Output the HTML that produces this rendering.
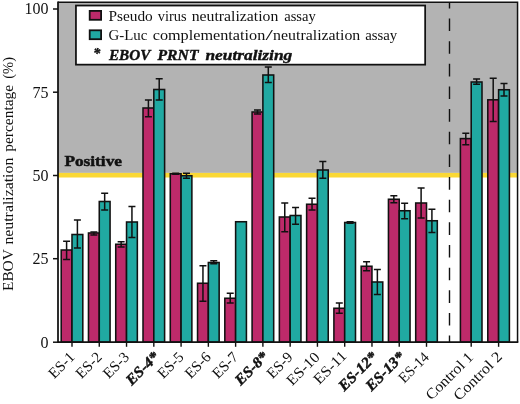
<!DOCTYPE html>
<html><head><meta charset="utf-8"><title>EBOV neutralization</title>
<style>html,body{margin:0;padding:0;background:#fff;}svg{display:block;}text{font-family:"Liberation Serif",serif;fill:#111111;}</style>
</head><body>
<svg width="520" height="404" viewBox="0 0 520 404" style="will-change:transform;opacity:0.999">
<rect x="0" y="0" width="520" height="404" fill="#ffffff"/>
<rect x="58.00" y="2.20" width="459.55" height="170.70" fill="#b3b3b3"/>
<rect x="58.00" y="172.9" width="459.55" height="4.6" fill="#fad835"/>
<path d="M449.5 2.20V8.45M449.5 18.50V31.10M449.5 41.15V53.75M449.5 63.80V76.40M449.5 86.45V99.05M449.5 109.10V121.70M449.5 131.75V144.35M449.5 154.40V167.00M449.5 177.05V189.65M449.5 199.70V212.30M449.5 222.35V234.95M449.5 245.00V257.60M449.5 267.65V280.25M449.5 290.30V302.90M449.5 312.95V325.55M449.5 335.60V342.20" stroke="#111111" stroke-width="1.4" fill="none"/>
<rect x="61.20" y="250.00" width="10.80" height="92.20" fill="#bd2a6a" stroke="#111111" stroke-width="1.55"/>
<rect x="72.00" y="234.50" width="10.80" height="107.70" fill="#20a9a2" stroke="#111111" stroke-width="1.55"/>
<path d="M66.60 241.25V259.50M63.10 241.25H70.10M63.10 259.50H70.10" stroke="#111111" stroke-width="1.5" fill="none"/>
<path d="M77.40 220.00V248.00M73.90 220.00H80.90M73.90 248.00H80.90" stroke="#111111" stroke-width="1.5" fill="none"/>
<rect x="88.47" y="233.00" width="10.80" height="109.20" fill="#bd2a6a" stroke="#111111" stroke-width="1.55"/>
<rect x="99.27" y="201.50" width="10.80" height="140.70" fill="#20a9a2" stroke="#111111" stroke-width="1.55"/>
<path d="M93.87 232.00V235.00M90.37 232.00H97.37M90.37 235.00H97.37" stroke="#111111" stroke-width="1.5" fill="none"/>
<path d="M104.67 193.25V210.00M101.17 193.25H108.17M101.17 210.00H108.17" stroke="#111111" stroke-width="1.5" fill="none"/>
<rect x="115.74" y="244.25" width="10.80" height="97.95" fill="#bd2a6a" stroke="#111111" stroke-width="1.55"/>
<rect x="126.54" y="222.00" width="10.80" height="120.20" fill="#20a9a2" stroke="#111111" stroke-width="1.55"/>
<path d="M121.14 241.75V247.00M117.64 241.75H124.64M117.64 247.00H124.64" stroke="#111111" stroke-width="1.5" fill="none"/>
<path d="M131.94 206.50V237.50M128.44 206.50H135.44M128.44 237.50H135.44" stroke="#111111" stroke-width="1.5" fill="none"/>
<rect x="143.01" y="108.00" width="10.80" height="234.20" fill="#bd2a6a" stroke="#111111" stroke-width="1.55"/>
<rect x="153.81" y="89.50" width="10.80" height="252.70" fill="#20a9a2" stroke="#111111" stroke-width="1.55"/>
<path d="M148.41 100.00V116.75M144.91 100.00H151.91M144.91 116.75H151.91" stroke="#111111" stroke-width="1.5" fill="none"/>
<path d="M159.21 78.75V100.00M155.71 78.75H162.71M155.71 100.00H162.71" stroke="#111111" stroke-width="1.5" fill="none"/>
<rect x="170.28" y="173.75" width="10.80" height="168.45" fill="#bd2a6a" stroke="#111111" stroke-width="1.55"/>
<rect x="181.08" y="175.75" width="10.80" height="166.45" fill="#20a9a2" stroke="#111111" stroke-width="1.55"/>
<path d="M175.68 173.30V174.30M172.18 173.30H179.18M172.18 174.30H179.18" stroke="#111111" stroke-width="1.5" fill="none"/>
<path d="M186.48 173.25V178.25M182.98 173.25H189.98M182.98 178.25H189.98" stroke="#111111" stroke-width="1.5" fill="none"/>
<rect x="197.55" y="283.25" width="10.80" height="58.95" fill="#bd2a6a" stroke="#111111" stroke-width="1.55"/>
<rect x="208.35" y="262.50" width="10.80" height="79.70" fill="#20a9a2" stroke="#111111" stroke-width="1.55"/>
<path d="M202.95 265.75V301.25M199.45 265.75H206.45M199.45 301.25H206.45" stroke="#111111" stroke-width="1.5" fill="none"/>
<path d="M213.75 260.75V263.75M210.25 260.75H217.25M210.25 263.75H217.25" stroke="#111111" stroke-width="1.5" fill="none"/>
<rect x="224.82" y="298.25" width="10.80" height="43.95" fill="#bd2a6a" stroke="#111111" stroke-width="1.55"/>
<rect x="235.62" y="221.75" width="10.80" height="120.45" fill="#20a9a2" stroke="#111111" stroke-width="1.55"/>
<path d="M230.22 293.25V303.00M226.72 293.25H233.72M226.72 303.00H233.72" stroke="#111111" stroke-width="1.5" fill="none"/>
<rect x="252.09" y="112.00" width="10.80" height="230.20" fill="#bd2a6a" stroke="#111111" stroke-width="1.55"/>
<rect x="262.89" y="75.00" width="10.80" height="267.20" fill="#20a9a2" stroke="#111111" stroke-width="1.55"/>
<path d="M257.49 110.00V114.00M253.99 110.00H260.99M253.99 114.00H260.99" stroke="#111111" stroke-width="1.5" fill="none"/>
<path d="M268.29 67.00V82.50M264.79 67.00H271.79M264.79 82.50H271.79" stroke="#111111" stroke-width="1.5" fill="none"/>
<rect x="279.36" y="217.00" width="10.80" height="125.20" fill="#bd2a6a" stroke="#111111" stroke-width="1.55"/>
<rect x="290.16" y="215.50" width="10.80" height="126.70" fill="#20a9a2" stroke="#111111" stroke-width="1.55"/>
<path d="M284.76 203.00V231.75M281.26 203.00H288.26M281.26 231.75H288.26" stroke="#111111" stroke-width="1.5" fill="none"/>
<path d="M295.56 207.50V224.25M292.06 207.50H299.06M292.06 224.25H299.06" stroke="#111111" stroke-width="1.5" fill="none"/>
<rect x="306.63" y="204.25" width="10.80" height="137.95" fill="#bd2a6a" stroke="#111111" stroke-width="1.55"/>
<rect x="317.43" y="170.00" width="10.80" height="172.20" fill="#20a9a2" stroke="#111111" stroke-width="1.55"/>
<path d="M312.03 198.25V210.00M308.53 198.25H315.53M308.53 210.00H315.53" stroke="#111111" stroke-width="1.5" fill="none"/>
<path d="M322.83 161.50V178.25M319.33 161.50H326.33M319.33 178.25H326.33" stroke="#111111" stroke-width="1.5" fill="none"/>
<rect x="333.90" y="308.25" width="10.80" height="33.95" fill="#bd2a6a" stroke="#111111" stroke-width="1.55"/>
<rect x="344.70" y="222.50" width="10.80" height="119.70" fill="#20a9a2" stroke="#111111" stroke-width="1.55"/>
<path d="M339.30 303.00V313.25M335.80 303.00H342.80M335.80 313.25H342.80" stroke="#111111" stroke-width="1.5" fill="none"/>
<path d="M350.10 221.75V223.25M346.60 221.75H353.60M346.60 223.25H353.60" stroke="#111111" stroke-width="1.5" fill="none"/>
<rect x="361.17" y="266.25" width="10.80" height="75.95" fill="#bd2a6a" stroke="#111111" stroke-width="1.55"/>
<rect x="371.97" y="282.00" width="10.80" height="60.20" fill="#20a9a2" stroke="#111111" stroke-width="1.55"/>
<path d="M366.57 261.75V270.75M363.07 261.75H370.07M363.07 270.75H370.07" stroke="#111111" stroke-width="1.5" fill="none"/>
<path d="M377.37 269.50V294.50M373.87 269.50H380.87M373.87 294.50H380.87" stroke="#111111" stroke-width="1.5" fill="none"/>
<rect x="388.44" y="199.25" width="10.80" height="142.95" fill="#bd2a6a" stroke="#111111" stroke-width="1.55"/>
<rect x="399.24" y="210.75" width="10.80" height="131.45" fill="#20a9a2" stroke="#111111" stroke-width="1.55"/>
<path d="M393.84 195.75V202.75M390.34 195.75H397.34M390.34 202.75H397.34" stroke="#111111" stroke-width="1.5" fill="none"/>
<path d="M404.64 203.25V218.75M401.14 203.25H408.14M401.14 218.75H408.14" stroke="#111111" stroke-width="1.5" fill="none"/>
<rect x="415.71" y="203.00" width="10.80" height="139.20" fill="#bd2a6a" stroke="#111111" stroke-width="1.55"/>
<rect x="426.51" y="220.75" width="10.80" height="121.45" fill="#20a9a2" stroke="#111111" stroke-width="1.55"/>
<path d="M421.11 188.00V218.00M417.61 188.00H424.61M417.61 218.00H424.61" stroke="#111111" stroke-width="1.5" fill="none"/>
<path d="M431.91 209.25V232.50M428.41 209.25H435.41M428.41 232.50H435.41" stroke="#111111" stroke-width="1.5" fill="none"/>
<rect x="460.40" y="138.60" width="10.80" height="203.60" fill="#bd2a6a" stroke="#111111" stroke-width="1.55"/>
<rect x="471.20" y="82.00" width="10.80" height="260.20" fill="#20a9a2" stroke="#111111" stroke-width="1.55"/>
<path d="M465.80 133.20V144.80M462.30 133.20H469.30M462.30 144.80H469.30" stroke="#111111" stroke-width="1.5" fill="none"/>
<path d="M476.60 79.10V84.30M473.10 79.10H480.10M473.10 84.30H480.10" stroke="#111111" stroke-width="1.5" fill="none"/>
<rect x="487.80" y="99.80" width="10.80" height="242.40" fill="#bd2a6a" stroke="#111111" stroke-width="1.55"/>
<rect x="498.60" y="89.75" width="10.80" height="252.45" fill="#20a9a2" stroke="#111111" stroke-width="1.55"/>
<path d="M493.20 78.20V121.50M489.70 78.20H496.70M489.70 121.50H496.70" stroke="#111111" stroke-width="1.5" fill="none"/>
<path d="M504.00 83.60V96.10M500.50 83.60H507.50M500.50 96.10H507.50" stroke="#111111" stroke-width="1.5" fill="none"/>
<path d="M58.00 2.20H517.55V342.20" stroke="#111111" stroke-width="1.5" fill="none"/>
<path d="M58.00 1.45V342.20H518.30" stroke="#111111" stroke-width="1.75" fill="none"/>
<path d="M53 9.00H58.00" stroke="#111111" stroke-width="1.5"/>
<text x="48.5" y="14.20" font-size="16" text-anchor="end">100</text>
<path d="M53 92.20H58.00" stroke="#111111" stroke-width="1.5"/>
<text x="48.5" y="97.80" font-size="16" text-anchor="end">75</text>
<path d="M53 175.50H58.00" stroke="#111111" stroke-width="1.5"/>
<text x="48.5" y="180.70" font-size="16" text-anchor="end">50</text>
<path d="M53 258.70H58.00" stroke="#111111" stroke-width="1.5"/>
<text x="48.5" y="263.90" font-size="16" text-anchor="end">25</text>
<path d="M53 342.20H58.00" stroke="#111111" stroke-width="1.5"/>
<text x="48.5" y="348.00" font-size="16" text-anchor="end">0</text>
<path d="M72.00 342.20V346.8" stroke="#111111" stroke-width="1.4"/>
<path d="M99.27 342.20V346.8" stroke="#111111" stroke-width="1.4"/>
<path d="M126.54 342.20V346.8" stroke="#111111" stroke-width="1.4"/>
<path d="M153.81 342.20V346.8" stroke="#111111" stroke-width="1.4"/>
<path d="M181.08 342.20V346.8" stroke="#111111" stroke-width="1.4"/>
<path d="M208.35 342.20V346.8" stroke="#111111" stroke-width="1.4"/>
<path d="M235.62 342.20V346.8" stroke="#111111" stroke-width="1.4"/>
<path d="M262.89 342.20V346.8" stroke="#111111" stroke-width="1.4"/>
<path d="M290.16 342.20V346.8" stroke="#111111" stroke-width="1.4"/>
<path d="M317.43 342.20V346.8" stroke="#111111" stroke-width="1.4"/>
<path d="M344.70 342.20V346.8" stroke="#111111" stroke-width="1.4"/>
<path d="M371.97 342.20V346.8" stroke="#111111" stroke-width="1.4"/>
<path d="M399.24 342.20V346.8" stroke="#111111" stroke-width="1.4"/>
<path d="M426.51 342.20V346.8" stroke="#111111" stroke-width="1.4"/>
<path d="M471.20 342.20V346.8" stroke="#111111" stroke-width="1.4"/>
<path d="M498.60 342.20V346.8" stroke="#111111" stroke-width="1.4"/>
<text transform="translate(75.50,358.00) rotate(-45)" font-size="15" text-anchor="end">ES-1</text>
<text transform="translate(102.77,358.00) rotate(-45)" font-size="15" text-anchor="end">ES-2</text>
<text transform="translate(130.04,358.00) rotate(-45)" font-size="15" text-anchor="end">ES-3</text>
<text transform="translate(160.01,357.70) rotate(-45)" font-size="15" text-anchor="end" font-weight="bold" font-style="italic" stroke="#111111" stroke-width="0.45" textLength="40.0" lengthAdjust="spacingAndGlyphs">ES-4*</text>
<text transform="translate(184.58,358.00) rotate(-45)" font-size="15" text-anchor="end">ES-5</text>
<text transform="translate(211.85,358.00) rotate(-45)" font-size="15" text-anchor="end">ES-6</text>
<text transform="translate(239.12,358.00) rotate(-45)" font-size="15" text-anchor="end">ES-7</text>
<text transform="translate(269.09,357.70) rotate(-45)" font-size="15" text-anchor="end" font-weight="bold" font-style="italic" stroke="#111111" stroke-width="0.45" textLength="40.0" lengthAdjust="spacingAndGlyphs">ES-8*</text>
<text transform="translate(293.66,358.00) rotate(-45)" font-size="15" text-anchor="end">ES-9</text>
<text transform="translate(320.63,358.00) rotate(-45)" font-size="15" text-anchor="end" textLength="40.0" lengthAdjust="spacingAndGlyphs">ES-10</text>
<text transform="translate(347.60,356.80) rotate(-45)" font-size="15" text-anchor="end" textLength="40.0" lengthAdjust="spacingAndGlyphs">ES-11</text>
<text transform="translate(378.17,357.70) rotate(-45)" font-size="15" text-anchor="end" font-weight="bold" font-style="italic" stroke="#111111" stroke-width="0.45" textLength="48.0" lengthAdjust="spacingAndGlyphs">ES-12*</text>
<text transform="translate(405.44,357.70) rotate(-45)" font-size="15" text-anchor="end" font-weight="bold" font-style="italic" stroke="#111111" stroke-width="0.45" textLength="48.0" lengthAdjust="spacingAndGlyphs">ES-13*</text>
<text transform="translate(430.01,358.00) rotate(-45)" font-size="15" text-anchor="end" textLength="36.5" lengthAdjust="spacingAndGlyphs">ES-14</text>
<text transform="translate(474.20,358.00) rotate(-45)" font-size="15" text-anchor="end" textLength="60.5" lengthAdjust="spacingAndGlyphs">Control 1</text>
<text transform="translate(503.00,357.60) rotate(-45)" font-size="15" text-anchor="end" textLength="61.8" lengthAdjust="spacingAndGlyphs">Control 2</text>
<text transform="translate(13.1,291.00) rotate(-90)" font-size="15" textLength="41.80" lengthAdjust="spacingAndGlyphs">EBOV</text>
<text transform="translate(13.1,244.60) rotate(-90)" font-size="15" textLength="86.90" lengthAdjust="spacingAndGlyphs">neutralization</text>
<text transform="translate(13.1,151.70) rotate(-90)" font-size="15" textLength="66.80" lengthAdjust="spacingAndGlyphs">percentage</text>
<text transform="translate(13.1,78.70) rotate(-90)" font-size="15" textLength="21.70" lengthAdjust="spacingAndGlyphs">(%)</text>
<text x="64.4" y="166.1" font-size="15.2" font-weight="bold" stroke="#111111" stroke-width="0.5" textLength="57.6" lengthAdjust="spacingAndGlyphs">Positive</text>
<rect x="75.95" y="5.55" width="349.2" height="59.1" fill="#ffffff" stroke="#111111" stroke-width="1.75"/>
<rect x="89.7" y="10.9" width="11.4" height="8.9" fill="#bd2a6a" stroke="#111111" stroke-width="1.8"/>
<rect x="89.7" y="30.3" width="11.4" height="8.9" fill="#20a9a2" stroke="#111111" stroke-width="1.8"/>
<text x="108.45" y="20.70" font-size="15" textLength="44.35" lengthAdjust="spacingAndGlyphs">Pseudo</text>
<text x="157.70" y="20.70" font-size="15" textLength="28.85" lengthAdjust="spacingAndGlyphs">virus</text>
<text x="191.70" y="20.70" font-size="15" textLength="86.60" lengthAdjust="spacingAndGlyphs">neutralization</text>
<text x="284.20" y="20.70" font-size="15" textLength="31.60" lengthAdjust="spacingAndGlyphs">assay</text>
<text x="108.45" y="40.40" font-size="15" textLength="38.85" lengthAdjust="spacingAndGlyphs">G-Luc</text>
<text x="152.70" y="40.40" font-size="15" textLength="112.60" lengthAdjust="spacingAndGlyphs">complementation</text>
<text x="265.50" y="40.40" font-size="15" textLength="7.40" lengthAdjust="spacingAndGlyphs">/</text>
<text x="273.10" y="40.40" font-size="15" textLength="87.20" lengthAdjust="spacingAndGlyphs">neutralization</text>
<text x="365.20" y="40.40" font-size="15" textLength="32.10" lengthAdjust="spacingAndGlyphs">assay</text>
<text x="93.2" y="58.2" font-size="14" font-weight="bold" font-style="italic" stroke="#111111" stroke-width="0.4">*</text>
<text x="108.90" y="60.00" font-size="15" textLength="41.40" lengthAdjust="spacingAndGlyphs" font-weight="bold" font-style="italic" stroke="#111111" stroke-width="0.4">EBOV</text>
<text x="157.50" y="60.00" font-size="15" textLength="41.00" lengthAdjust="spacingAndGlyphs" font-weight="bold" font-style="italic" stroke="#111111" stroke-width="0.4">PRNT</text>
<text x="205.40" y="60.00" font-size="15" textLength="86.90" lengthAdjust="spacingAndGlyphs" font-weight="bold" font-style="italic" stroke="#111111" stroke-width="0.4">neutralizing</text>
</svg></body></html>
